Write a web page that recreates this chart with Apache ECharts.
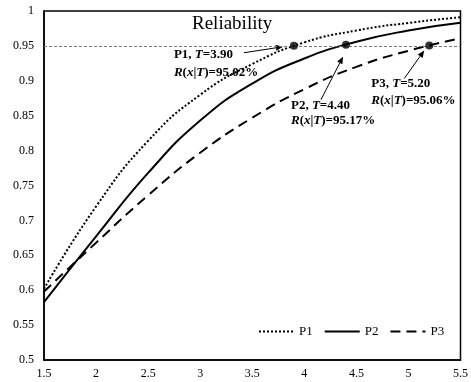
<!DOCTYPE html>
<html>
<head>
<meta charset="utf-8">
<script src="https://cdn.jsdelivr.net/npm/echarts@6/dist/echarts.min.js"></script>
<style>
  html, body { margin: 0; padding: 0; background: #fff; }
  #chart { width: 471px; height: 382px; }
</style>
</head>
<body>
<div id="chart"></div>
<script>
// values
const xValues = [1.5, 2, 2.5, 3, 3.5, 4, 4.5, 5, 5.5];
const p1Values = [0.602, 0.720, 0.814, 0.880, 0.924, 0.955, 0.972, 0.983, 0.991];
const p2Values = [0.583, 0.677, 0.768, 0.843, 0.896, 0.932, 0.956, 0.972, 0.983];
const p3Values = [0.598, 0.668, 0.736, 0.797, 0.847, 0.888, 0.920, 0.943, 0.961];

const seriesNames = ["P1", "P2", "P3"];
const markT = [3.90, 4.40, 5.20];
const markR = [0.9502, 0.9517, 0.9506];
const threshold = 0.95;

const FONT = "'Liberation Serif', 'Times New Roman', serif";

const pairs = (ys) => xValues.map((x, i) => [x, ys[i]]);

const chart = echarts.init(document.getElementById("chart"), null, { renderer: "canvas" });

const lineStyles = [
  { color: "#000", width: 2, type: [2, 2] },
  { color: "#000", width: 2, type: "solid" },
  { color: "#000", width: 2, type: [10, 6] },
];

const option = {
  animation: false,
  backgroundColor: "#fff",
  title: {
    text: "Reliability",
    left: 187,
    top: 10,
    textStyle: { fontFamily: FONT, fontSize: 19, fontWeight: "normal", color: "#000" },
  },
  legend: {
    data: seriesNames,
    left: 258,
    top: 325,
    padding: 0,
    itemWidth: 35,
    itemHeight: 10,
    itemGap: 11,
    itemStyle: { opacity: 0 },
    textStyle: { fontFamily: FONT, fontSize: 13, color: "#000" },
  },
  grid: {
    left: 44, right: 8, top: 11, bottom: 22,
    show: true, borderColor: "#000", borderWidth: 1.5,
  },
  xAxis: {
    type: "value",
    min: 1.5, max: 5.5, interval: 0.5,
    axisLine: { lineStyle: { color: "#000", width: 1.5 } },
    axisTick: { show: false },
    splitLine: { show: false },
    axisLabel: { color: "#000", fontFamily: FONT, fontSize: 12, margin: 8 },
  },
  yAxis: {
    type: "value",
    min: 0.5, max: 1, interval: 0.05,
    axisLine: { show: true, lineStyle: { color: "#000", width: 1.5 } },
    axisTick: { show: false },
    splitLine: { show: false },
    axisLabel: { color: "#000", fontFamily: FONT, fontSize: 12, margin: 10 },
  },
  series: [
    ...[p1Values, p2Values, p3Values].map((ys, i) => ({
      name: seriesNames[i],
      type: "line",
      data: pairs(ys),
      smooth: true,
      symbol: "none",
      lineStyle: lineStyles[i],
      itemStyle: { color: "#000" },
      z: 3,
    })),
    {
      name: "threshold",
      type: "line",
      data: [],
      markLine: {
        silent: true,
        symbol: "none",
        label: { show: false },
        lineStyle: { color: "#777", width: 1, type: [3, 2] },
        data: [{ yAxis: threshold }],
      },
    },
    {
      name: "marks",
      type: "scatter",
      data: markT.map((t, i) => [t, markR[i]]),
      symbolSize: 8,
      itemStyle: { color: "#000" },
      z: 5,
    },
  ],
};

chart.setOption(option);

// annotation placement, pixel offsets from each marked point
const notes = [
  { text: [-120, 9], gap: 18, tail: [-50, 7], head: [-11, 1] },
  { text: [-55, 61], gap: 15, tail: [-25, 55], head: [-3, 12] },
  { text: [-58, 38], gap: 17, tail: [-25, 33], head: [-5, 5] },
];

const rich = {
  b: { fontFamily: FONT, fontSize: 13, fontWeight: "bold", fill: "#000" },
  i: { fontFamily: FONT, fontSize: 13, fontWeight: "bold", fontStyle: "italic", fill: "#000" },
};

const graphic = [];
markT.forEach((t, i) => {
  const [px, py] = chart.convertToPixel({ xAxisIndex: 0, yAxisIndex: 0 }, [t, markR[i]]);
  const n = notes[i];
  const line1 = `{b|${seriesNames[i]}, }{i|T}{b|=${t.toFixed(2)}}`;
  const line2 = `{i|R}{b|(}{i|x}{b||}{i|T}{b|)=${(markR[i] * 100).toFixed(2)}%}`;
  graphic.push({
    type: "text", x: px + n.text[0], y: py + n.text[1],
    style: { text: line1, rich, verticalAlign: "middle" },
  });
  graphic.push({
    type: "text", x: px + n.text[0], y: py + n.text[1] + n.gap,
    style: { text: line2, rich, verticalAlign: "middle" },
  });
  const tx = px + n.tail[0], ty = py + n.tail[1];
  const hx = px + n.head[0], hy = py + n.head[1];
  const len = Math.hypot(hx - tx, hy - ty);
  const ux = (hx - tx) / len, uy = (hy - ty) / len;
  const bx = hx - ux * 7, by = hy - uy * 7;
  graphic.push({
    type: "line",
    shape: { x1: tx, y1: ty, x2: bx, y2: by },
    style: { stroke: "#000", lineWidth: 1 },
  });
  graphic.push({
    type: "polygon",
    shape: { points: [[hx, hy], [bx - uy * 3, by + ux * 3], [bx + uy * 3, by - ux * 3]] },
    style: { fill: "#000" },
  });
});

chart.setOption({ graphic });
</script>
</body>
</html>
